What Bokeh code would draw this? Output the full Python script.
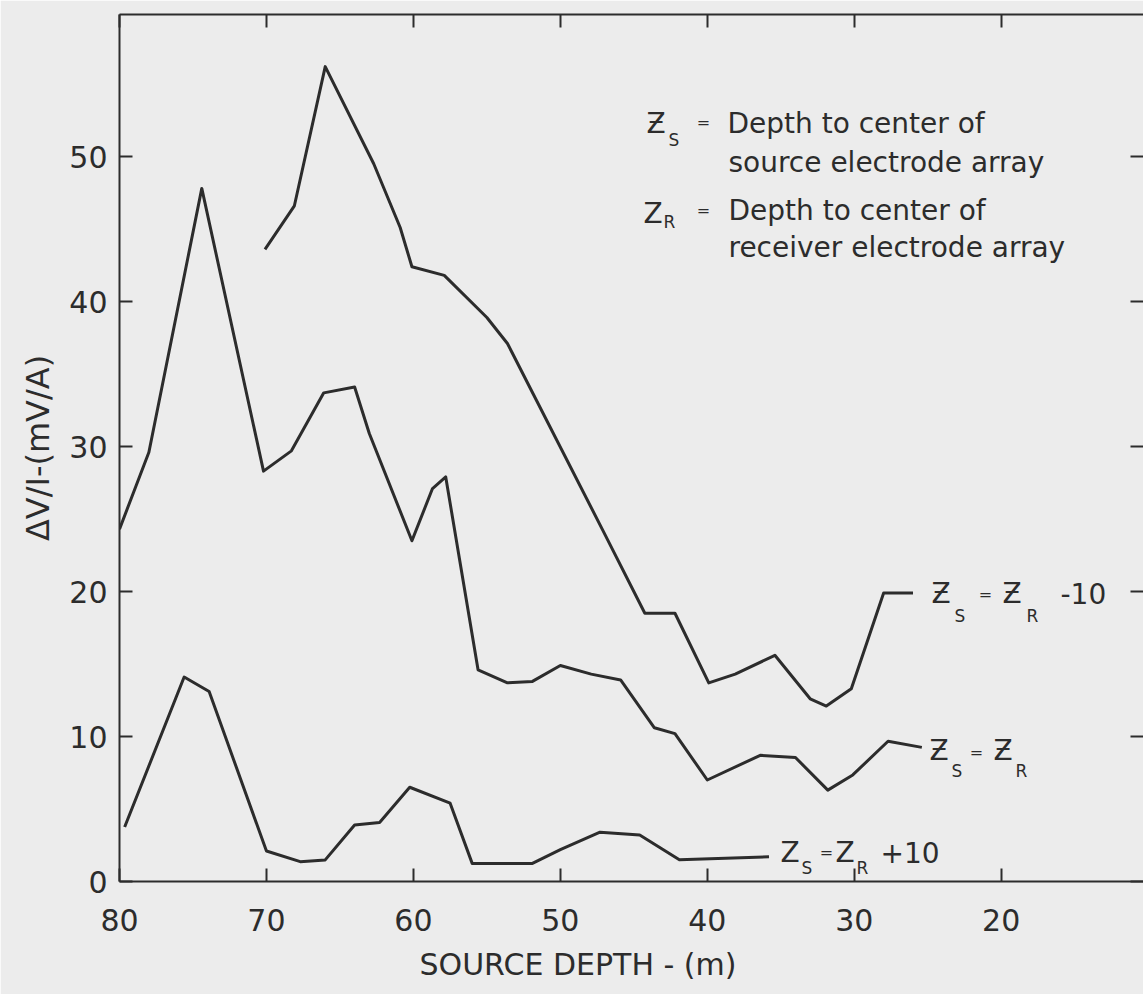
from bokeh.plotting import figure
from bokeh.models import Range1d, LinearAxis, FixedTicker, Label, Title
from bokeh.embed import file_html
from bokeh.resources import INLINE

# ---------------- data ----------------
# Zs = ZR - 10
upper_depth = [70.1, 68.1, 66.0, 62.7, 60.9, 60.1, 57.9, 55.0, 53.6, 47.1, 44.25,
               42.2, 39.9, 38.1, 35.4, 33.0, 31.9, 30.2, 28.0, 26.0]
upper_val = [43.6, 46.6, 56.2, 49.5, 45.1, 42.4, 41.8, 38.9, 37.1, 24.2, 18.5,
             18.5, 13.7, 14.3, 15.6, 12.6, 12.1, 13.3, 19.9, 19.9]

# Zs = ZR
middle_depth = [80.0, 78.0, 74.4, 70.2, 68.3, 66.1, 64.0, 63.0, 60.1, 58.7, 57.8,
                55.6, 53.6, 51.9, 50.0, 47.9, 45.9, 43.6, 42.2, 40.0, 36.4, 34.0,
                31.8, 30.1, 27.7, 25.4]
middle_val = [24.3, 29.6, 47.8, 28.3, 29.7, 33.7, 34.1, 30.9, 23.5, 27.1, 27.9,
              14.6, 13.7, 13.8, 14.9, 14.3, 13.9, 10.6, 10.2, 7.0, 8.7, 8.55,
              6.3, 7.35, 9.67, 9.25]

# Zs = ZR + 10
lower_depth = [79.65, 75.6, 73.9, 70.0, 67.7, 66.0, 64.0, 62.3, 60.25, 57.5, 56.0,
               51.9, 50.0, 47.3, 44.6, 41.9, 35.8]
lower_val = [3.76, 14.1, 13.1, 2.1, 1.37, 1.49, 3.9, 4.07, 6.5, 5.4, 1.25,
             1.25, 2.2, 3.4, 3.2, 1.5, 1.7]

x_ticks = [80, 70, 60, 50, 40, 30, 20]
x_tick_labels = ["80", "70", "60", "50", "40", "30", "20"]
y_ticks = [0, 10, 20, 30, 40, 50]
y_tick_labels = ["0", "10", "20", "30", "40", "50"]

x_title = "SOURCE DEPTH - (m)"
y_title = "\u0394V/I-(mV/A)"

# ---------------- layout ----------------
W, H = 1143, 994
FL, FT, FB = 119, 14, 881          # frame edges in pixels
PX_X, PX_Y = 14.695, 14.5          # pixels per data unit
x0 = 80.0
x1 = x0 - (W - FL) / PX_X
y1 = (FB - FT) / PX_Y

INK = "#2c2c2c"
BG = "#ececec"
FONT = "DejaVu Sans"

p = figure(width=W, height=H, x_range=Range1d(x0, x1), y_range=Range1d(0, y1),
           output_backend="svg", toolbar_location=None,
           min_border_left=FL, min_border_right=0, min_border_top=FT,
           min_border_bottom=H - FB)
p.background_fill_color = BG
p.border_fill_color = BG
p.outline_line_color = None
p.xgrid.grid_line_color = None
p.ygrid.grid_line_color = None

def style_axis(ax, ticks, labels=None, standoff=10, size="30px"):
    ax.ticker = FixedTicker(ticks=ticks)
    ax.axis_line_color = INK
    ax.axis_line_width = 2
    ax.major_tick_line_color = INK
    ax.major_tick_line_width = 2
    ax.major_tick_in = 13
    ax.major_tick_out = 0
    ax.minor_tick_in = 0
    ax.minor_tick_out = 0
    ax.minor_tick_line_color = None
    ax.major_label_standoff = standoff
    ax.major_label_text_font = FONT
    ax.major_label_text_color = INK
    if labels is None:
        ax.major_label_overrides = {t: "" for t in ticks}
        ax.major_label_text_font_size = "0px"
        ax.major_label_standoff = 0
    else:
        ax.major_label_overrides = dict(zip(ticks, labels))
        ax.major_label_text_font_size = size

style_axis(p.xaxis[0], x_ticks, x_tick_labels, standoff=27)
style_axis(p.yaxis[0], y_ticks, y_tick_labels, standoff=12)
p.yaxis[0].axis_label = y_title
p.yaxis[0].axis_label_text_font = FONT
p.yaxis[0].axis_label_text_font_size = "32px"
p.yaxis[0].axis_label_text_font_style = "normal"
p.yaxis[0].axis_label_text_color = INK
p.yaxis[0].axis_label_standoff = 9

top = LinearAxis()
style_axis(top, x_ticks)
p.add_layout(top, "above")
right = LinearAxis()
style_axis(right, y_ticks)
right.axis_line_color = None
p.add_layout(right, "right")

# x axis title, placed left of the frame centre like the original
xt = Title(text=x_title, align="left", offset=300, standoff=22,
           text_font=FONT, text_font_size="30px", text_font_style="normal",
           text_color=INK)
p.add_layout(xt, "below")

# ---------------- curves ----------------
for xs, ys in [(upper_depth, upper_val), (middle_depth, middle_val), (lower_depth, lower_val)]:
    p.line(xs, ys, line_color=INK, line_width=3, line_join="round")

# ---------------- texts ----------------
def dx(px):
    return x0 - (px - FL) / PX_X

def dy(py):
    return (FB - py) / PX_Y

def txt(px, py, s, size=28, align="left"):
    # py: pixel row of the text's baseline in the original
    yc = py - 0.36 * size
    p.add_layout(Label(x=dx(px), y=dy(yc), text=s, text_font=FONT,
                       text_font_size=f"{size}px", text_color=INK,
                       text_align=align, text_baseline="alphabetic"))

def eq(px, py_center, size=16):
    p.add_layout(Label(x=dx(px), y=dy(py_center + 1), text="=", text_font=FONT,
                       text_font_size=f"{size}px", text_color=INK,
                       text_align="center", text_baseline="alphabetic"))

# explanation block
txt(646, 133, "\u01B5")
txt(668, 146, "S", 17)
eq(703, 121)
txt(727, 133, "Depth to center of")
txt(728, 172, "source electrode array")
txt(643, 223, "Z")
txt(663, 228, "R", 17)
eq(703, 209)
txt(728, 220, "Depth to center of")
txt(728, 257, "receiver electrode array")

# series labels
txt(931, 603, "\u01B5")
txt(954, 622, "S", 17)
eq(985, 593)
txt(1002, 603, "\u01B5")
txt(1026, 622, "R", 17)
txt(1060, 603, "-10")

txt(929, 760, "\u01B5")
txt(951, 777, "S", 17)
eq(976, 751)
txt(993, 760, "\u01B5")
txt(1015, 777, "R", 17)

txt(780, 862, "Z")
txt(801, 874, "S", 17)
eq(826, 851)
txt(835, 862, "Z")
txt(856, 874, "R", 17)
txt(880, 862, "+10")

open("out.html", "w").write(file_html(p, INLINE))
